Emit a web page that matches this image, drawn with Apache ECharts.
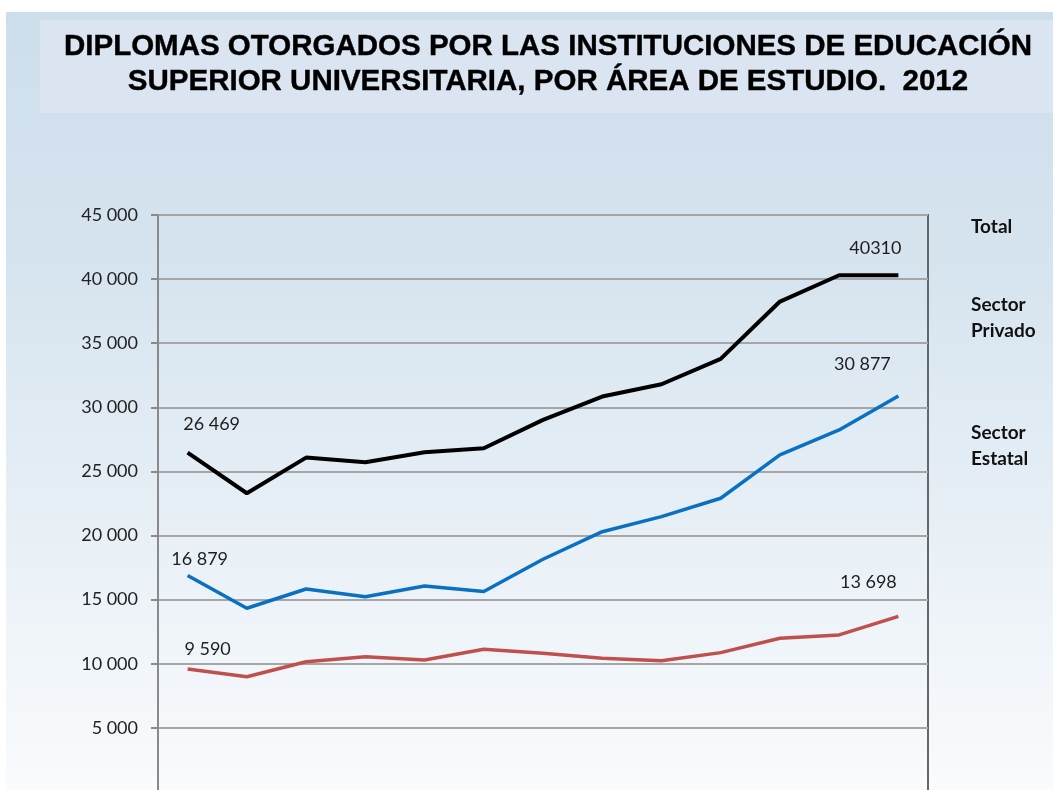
<!DOCTYPE html>
<html>
<head>
<meta charset="utf-8">
<script src="https://cdn.jsdelivr.net/npm/echarts@6/dist/echarts.min.js"></script>
<style>
  html, body { margin: 0; padding: 0; overflow: hidden; background: #fff; }
  #chart { width: 1053px; height: 850px; }
</style>
</head>
<body>
<div id="chart"></div>
<script>
// años (no se ven en la imagen, eje cortado abajo)
var years = ['2000','2001','2002','2003','2004','2005','2006','2007','2008','2009','2010','2011','2012'];
var total   = [26469, 23300, 26080, 25720, 26500, 26810, 29020, 30840, 31800, 33780, 38250, 40300, 40310];
var privado = [16879, 14330, 15830, 15230, 16070, 15630, 18150, 20300, 21480, 22910, 26290, 28240, 30877];
var estatal = [9590, 8990, 10160, 10550, 10300, 11130, 10820, 10430, 10240, 10870, 11990, 12250, 13698];
var yTicks = [0, 5000, 10000, 15000, 20000, 25000, 30000, 35000, 40000, 45000];

var titulo = 'DIPLOMAS OTORGADOS POR LAS INSTITUCIONES DE EDUCACIÓN\nSUPERIOR UNIVERSITARIA, POR ÁREA DE ESTUDIO.  2012';

function miles(v) {
  return String(v).replace(/\B(?=(\d{3})+(?!\d))/g, ' ');
}

// etiquetas solo en el primer y último año
function conEtiquetas(values, marcas) {
  return values.map(function (v, i) {
    var m = marcas[i];
    if (!m) return v;
    return {
      value: v,
      label: {
        show: true,
        position: 'inside',
        offset: m.offset,
        formatter: m.raw ? String(v) : miles(v)
      }
    };
  });
}

var labelStyle = { fontFamily: 'Lato', fontSize: 18, color: '#1e1e1e' };

var chart = echarts.init(document.getElementById('chart'));
chart.setOption({
  backgroundColor: '#ffffff',
  animation: false,
  title: {
    text: titulo,
    left: 548,
    top: 29,
    padding: 0,
    textAlign: 'center',
    textStyle: {
      fontFamily: 'Liberation Sans',
      fontWeight: 'bold',
      fontSize: 29.5,
      lineHeight: 35,
      color: '#000',
      textBorderColor: '#000',
      textBorderWidth: 0.4
    }
  },
  graphic: [
    {
      type: 'rect', z: -10,
      shape: { x: 6, y: 12, width: 1047, height: 840 },
      style: {
        fill: new echarts.graphic.LinearGradient(0, 0, 0, 1, [
          { offset: 0, color: '#cddeeb' },
          { offset: 0.3, color: '#d6e4ef' },
          { offset: 0.92, color: '#f9fbfd' },
          { offset: 1, color: '#ffffff' }
        ])
      }
    },
    {
      type: 'rect', z: -9,
      shape: { x: 40, y: 20, width: 1013, height: 93 },
      style: { fill: '#dbe5f1' }
    },
    { type: 'text', left: 971, top: 217, style: { text: 'Total', font: 'bold 19px Lato', fill: '#111' } },
    { type: 'text', left: 971, top: 292, style: { text: 'Sector\nPrivado', font: 'bold 19px Lato', lineHeight: 26, fill: '#111' } },
    { type: 'text', left: 971, top: 420, style: { text: 'Sector\nEstatal', font: 'bold 19px Lato', lineHeight: 26, fill: '#111' } }
  ],
  grid: {
    left: 158, right: 125, top: 215, bottom: 58,
    show: true,
    borderColor: '#666666',
    borderWidth: 2,
    backgroundColor: 'transparent'
  },
  xAxis: {
    type: 'category',
    data: years,
    boundaryGap: true,
    axisLine: { show: false },
    axisTick: { show: false },
    axisLabel: { show: false }
  },
  yAxis: {
    type: 'value',
    min: yTicks[0],
    max: yTicks[yTicks.length - 1],
    interval: 5000,
    axisLine: { show: true, lineStyle: { color: '#8a8a8a', width: 2 } },
    axisTick: { show: true, length: 7, lineStyle: { color: '#8a8a8a', width: 2 } },
    axisLabel: {
      margin: 20,
      showMinLabel: false,
      fontFamily: 'Lato',
      fontSize: 18,
      color: '#222',
      formatter: function (v) { return miles(v); }
    },
    splitLine: { lineStyle: { color: '#a6a6a6', width: 2 } }
  },
  series: [
    {
      name: 'Total',
      type: 'line',
      data: conEtiquetas(total, { 0: { offset: [24, -28] }, 12: { offset: [-23, -27], raw: true } }),
      symbol: 'circle', symbolSize: 0,
      lineStyle: { color: '#000000', width: 4 },
      itemStyle: { color: '#000000' },
      label: labelStyle
    },
    {
      name: 'Sector Privado',
      type: 'line',
      data: conEtiquetas(privado, { 0: { offset: [12, -16] }, 12: { offset: [-36, -32] } }),
      symbol: 'circle', symbolSize: 0,
      lineStyle: { color: '#0a70c2', width: 3.5 },
      itemStyle: { color: '#0a70c2' },
      label: labelStyle
    },
    {
      name: 'Sector Estatal',
      type: 'line',
      data: conEtiquetas(estatal, { 0: { offset: [20, -20] }, 12: { offset: [-30, -34] } }),
      symbol: 'circle', symbolSize: 0,
      lineStyle: { color: '#c0504d', width: 3.5 },
      itemStyle: { color: '#c0504d' },
      label: labelStyle
    }
  ]
});
</script>
</body>
</html>
